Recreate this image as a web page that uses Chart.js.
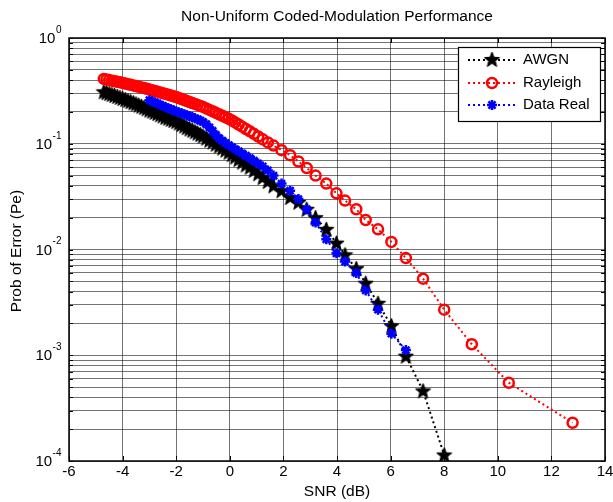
<!DOCTYPE html>
<html>
<head>
  <title>Non-Uniform Coded-Modulation Performance</title>
  <script src="https://cdn.jsdelivr.net/npm/chart.js"></script>
  <style>
    body { margin: 0; background: #fff; }
    #wrap { position: relative; width: 613px; height: 502px; }
  </style>
</head>
<body>
  <div id="wrap"><canvas id="perfChart"></canvas></div>

  <script>
    // SNR points (dB), shared by all three curves
    const snrDb = [
      -4.7, -4.6, -4.5, -4.4, -4.3, -4.2, -4.1, -4.0, -3.9, -3.8,
      -3.7, -3.6, -3.5, -3.4, -3.3, -3.2, -3.1, -3.0, -2.9, -2.8,
      -2.7, -2.6, -2.5, -2.4, -2.3, -2.2, -2.1, -2.0, -1.9, -1.8,
      -1.7, -1.6, -1.5, -1.4, -1.3, -1.2, -1.1, -1.0,
      -0.88, -0.76, -0.64, -0.52, -0.4, -0.28, -0.16, -0.04, 0.08, 0.2,
      0.33, 0.46, 0.6, 0.75, 0.9, 1.06, 1.23, 1.42, 1.63, 1.93,
      2.25, 2.56, 2.87, 3.2, 3.6, 3.98, 4.3, 4.72, 5.07, 5.53,
      6.03, 6.57, 7.21, 8.0, 9.03, 10.41, 12.79
    ];

    const awgnPe = [
      0.310, 0.304, 0.298, 0.292, 0.286, 0.280, 0.274, 0.268, 0.262, 0.256,
      0.250, 0.244, 0.238, 0.232, 0.226, 0.220, 0.214, 0.208, 0.203, 0.198,
      0.193, 0.188, 0.183, 0.178, 0.174, 0.170, 0.166, 0.162, 0.157, 0.152,
      0.147, 0.142, 0.138, 0.134, 0.130, 0.126, 0.122, 0.118,
      0.113, 0.108, 0.104, 0.099, 0.095, 0.091, 0.087, 0.083, 0.079, 0.075,
      0.071, 0.067, 0.063, 0.060, 0.056, 0.052, 0.048, 0.044, 0.040, 0.036,
      0.031, 0.028, 0.024, 0.020, 0.0155, 0.0115, 0.0089, 0.0066, 0.0048, 0.0031,
      0.0019, 0.00098, 0.00046, 0.000114, null, null, null
    ];

    const rayleighPe = [
      0.410, 0.405, 0.400, 0.395, 0.390, 0.386, 0.381, 0.376, 0.371, 0.366,
      0.361, 0.356, 0.351, 0.346, 0.341, 0.336, 0.331, 0.326, 0.321, 0.316,
      0.311, 0.306, 0.301, 0.296, 0.291, 0.286, 0.281, 0.277, 0.271, 0.265,
      0.259, 0.253, 0.248, 0.243, 0.238, 0.233, 0.228, 0.223,
      0.216, 0.209, 0.203, 0.196, 0.190, 0.184, 0.178, 0.172, 0.166, 0.159,
      0.152, 0.145, 0.138, 0.131, 0.124, 0.117, 0.110, 0.103, 0.096, 0.087,
      0.078, 0.068, 0.059, 0.050, 0.042, 0.034, 0.029, 0.024, 0.019, 0.0155,
      0.0118, 0.0083, 0.0053, 0.0027, 0.00127, 0.00055, 0.00023
    ];

    const dataRealPe = [
      null, null, null, null, null, null, null, null, null, null,
      null, null, null, null, null, null, null, 0.258, 0.252, 0.246,
      0.240, 0.234, 0.228, 0.222, 0.217, 0.212, 0.207, 0.202, 0.198, 0.194,
      0.190, 0.186, 0.182, 0.178, 0.174, 0.170, 0.166, 0.161,
      0.153, 0.143, 0.132, 0.121, 0.113, 0.107, 0.102, 0.097, 0.093, 0.089,
      0.085, 0.081, 0.077, 0.073, 0.069, 0.065, 0.061, 0.056, 0.050, 0.042,
      0.036, 0.030, 0.024, 0.018, 0.0125, 0.0092, 0.0077, 0.006, 0.0041, 0.0027,
      0.0016, 0.00112, null, null, null, null, null
    ];

    const xTicks = [-6, -4, -2, 0, 2, 4, 6, 8, 10, 12, 14];
    const yDecades = [-4, -3, -2, -1, 0];

    const seriesNames = ['AWGN', 'Rayleigh', 'Data Real'];

    function toPoints(vals) {
      return snrDb.map((x, i) => ({ x: x, y: vals[i] })).filter(p => p.y !== null);
    }

    // filled five-point star like matlab's 'p' marker
    function makeStar(size, color) {
      const c = document.createElement('canvas');
      c.width = size; c.height = size;
      const g = c.getContext('2d');
      const cx = size / 2, cy = size / 2 + 0.5;
      const R = size / 2 - 0.5, r = R * 0.42;
      g.beginPath();
      for (let i = 0; i < 10; i++) {
        const a = -Math.PI / 2 + i * Math.PI / 5;
        const rad = i % 2 ? r : R;
        const px = cx + rad * Math.cos(a), py = cy + rad * Math.sin(a);
        if (i === 0) g.moveTo(px, py); else g.lineTo(px, py);
      }
      g.closePath();
      g.fillStyle = color;
      g.fill();
      g.lineWidth = 1;
      g.strokeStyle = color;
      g.stroke();
      return c;
    }
    const starImg = makeStar(17, '#000');

    const FONT = '"Liberation Sans", Arial, Helvetica, sans-serif';

    const decor = {
      id: 'decor',
      afterDraw(chart) {
        const ctx = chart.ctx;
        const a = chart.chartArea;
        const xs = chart.scales.x, ys = chart.scales.y;
        ctx.save();

        // frame
        ctx.strokeStyle = '#000';
        ctx.lineWidth = 1.5;
        ctx.strokeRect(a.left, a.top, a.right - a.left, a.bottom - a.top);

        // inward tick marks
        ctx.lineWidth = 1;
        xTicks.forEach(v => {
          const px = Math.round(xs.getPixelForValue(v)) + 0.5;
          ctx.beginPath();
          ctx.moveTo(px, a.top); ctx.lineTo(px, a.top + 5);
          ctx.moveTo(px, a.bottom); ctx.lineTo(px, a.bottom - 5);
          ctx.stroke();
        });
        ys.ticks.forEach(t => {
          const py = Math.round(ys.getPixelForValue(t.value)) + 0.5;
          ctx.beginPath();
          ctx.moveTo(a.left, py); ctx.lineTo(a.left + 4, py);
          ctx.moveTo(a.right, py); ctx.lineTo(a.right - 4, py);
          ctx.stroke();
        });

        ctx.fillStyle = '#000';

        // x tick labels
        ctx.font = '15px ' + FONT;
        ctx.textAlign = 'center';
        ctx.textBaseline = 'middle';
        xTicks.forEach(v => {
          ctx.fillText(String(v), xs.getPixelForValue(v), a.bottom + 11);
        });

        // y tick labels 10^n
        yDecades.forEach(e => {
          const py = ys.getPixelForValue(Math.pow(10, e));
          const exp = String(e);
          ctx.font = '10px ' + FONT;
          const ew = ctx.measureText(exp).width;
          ctx.font = '15px ' + FONT;
          const bw = ctx.measureText('10').width;
          const right = a.left - 8;
          ctx.textAlign = 'left';
          ctx.textBaseline = 'middle';
          ctx.fillText('10', right - ew - bw, py + 1);
          ctx.font = '10px ' + FONT;
          ctx.fillText(exp, right - ew + 0.5, py - 8);
        });

        // title and axis labels
        ctx.font = '15.5px ' + FONT;
        ctx.textAlign = 'center';
        ctx.textBaseline = 'middle';
        ctx.fillText('Non-Uniform Coded-Modulation Performance', 337, 17);
        ctx.fillText('SNR (dB)', 337, 492);
        ctx.save();
        ctx.translate(17, 251);
        ctx.rotate(-Math.PI / 2);
        ctx.fillText('Prob of Error (Pe)', 0, 0);
        ctx.restore();

        // legend box
        const bx = 458, by = 47, bw2 = 142, bh = 74;
        ctx.fillStyle = '#fff';
        ctx.fillRect(bx, by, bw2, bh);
        ctx.strokeStyle = '#000';
        ctx.lineWidth = 1.2;
        ctx.strokeRect(bx + 0.5, by + 0.5, bw2, bh);

        const rows = [60, 83, 105];
        const colors = ['#000', '#ff0000', '#0000ff'];
        rows.forEach((ry, i) => {
          ctx.strokeStyle = colors[i];
          ctx.lineWidth = 2;
          ctx.setLineDash([2, 3]);
          ctx.beginPath();
          ctx.moveTo(468, ry); ctx.lineTo(516, ry);
          ctx.stroke();
          ctx.setLineDash([]);
          const mx = 492;
          if (i === 0) {
            ctx.drawImage(starImg, mx - 8.5, ry - 9);
          } else if (i === 1) {
            ctx.beginPath();
            ctx.arc(mx, ry, 5, 0, Math.PI * 2);
            ctx.lineWidth = 2.5;
            ctx.stroke();
          } else {
            ctx.lineWidth = 2.5;
            ctx.beginPath();
            const r = 5;
            for (let k = 0; k < 4; k++) {
              const ang = k * Math.PI / 4;
              ctx.moveTo(mx - r * Math.cos(ang), ry - r * Math.sin(ang));
              ctx.lineTo(mx + r * Math.cos(ang), ry + r * Math.sin(ang));
            }
            ctx.stroke();
          }
          ctx.fillStyle = '#000';
          ctx.font = '15px ' + FONT;
          ctx.textAlign = 'left';
          ctx.textBaseline = 'middle';
          ctx.fillText(seriesNames[i], 523, ry);
        });

        ctx.restore();
      }
    };

    const gridColor = 'rgba(0,0,0,0.55)';

    new Chart(document.getElementById('perfChart'), {
      type: 'line',
      data: {
        datasets: [
          {
            label: seriesNames[0],
            data: toPoints(awgnPe),
            borderColor: '#000',
            backgroundColor: '#000',
            borderWidth: 2,
            borderDash: [2, 3],
            pointStyle: starImg,
            pointRadius: 6,
            order: 2
          },
          {
            label: seriesNames[1],
            data: toPoints(rayleighPe),
            borderColor: '#ff0000',
            backgroundColor: 'rgba(0,0,0,0)',
            borderWidth: 2,
            borderDash: [2, 3],
            pointStyle: 'circle',
            pointRadius: 5,
            pointBorderWidth: 2.5,
            order: 1
          },
          {
            label: seriesNames[2],
            data: toPoints(dataRealPe),
            borderColor: '#0000ff',
            backgroundColor: '#0000ff',
            borderWidth: 2,
            borderDash: [2, 3],
            pointStyle: 'star',
            pointRadius: 5,
            pointBorderWidth: 2.5,
            order: 0
          }
        ]
      },
      options: {
        responsive: true,
        maintainAspectRatio: false,
        animation: false,
        layout: { padding: { left: 69, top: 38, right: 5, bottom: 41 } },
        plugins: {
          legend: { display: false },
          tooltip: { enabled: false },
          title: { display: false }
        },
        scales: {
          x: {
            type: 'linear',
            min: -6,
            max: 14,
            afterBuildTicks: s => { s.ticks = xTicks.map(v => ({ value: v })); },
            ticks: { display: false },
            grid: { color: gridColor, lineWidth: 1, drawTicks: false },
            border: { display: false }
          },
          y: {
            type: 'logarithmic',
            min: 1e-4,
            max: 1,
            afterBuildTicks: s => {
              const t = [];
              yDecades.forEach(e => {
                const step = Math.pow(10, e);
                const n = e === 0 ? 1 : 9;
                for (let k = 1; k <= n; k++) t.push({ value: k * step });
              });
              s.ticks = t;
            },
            ticks: { display: false },
            grid: { color: gridColor, lineWidth: 1, drawTicks: false },
            border: { display: false }
          }
        }
      },
      plugins: [decor]
    });
  </script>
</body>
</html>
